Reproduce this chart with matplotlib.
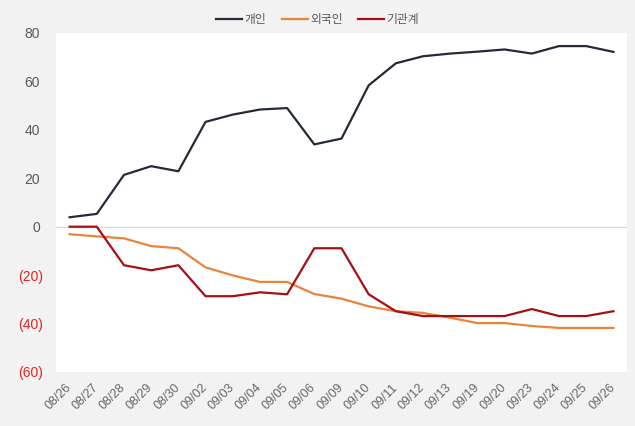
import matplotlib.pyplot as plt
import matplotlib.transforms as mtransforms
from matplotlib.ticker import FuncFormatter, FixedLocator

plt.rcParams['font.family'] = ['Noto Sans CJK KR', 'DejaVu Sans']

# --- data ---
dates = ['08/26', '08/27', '08/28', '08/29', '08/30', '09/02', '09/03', '09/04',
         '09/05', '09/06', '09/09', '09/10', '09/11', '09/12', '09/13', '09/19',
         '09/20', '09/23', '09/24', '09/25', '09/26']
individual = [3.9, 5.3, 21.4, 25.0, 22.9, 43.3, 46.3, 48.4, 49.0, 34.0, 36.4,
              58.4, 67.5, 70.4, 71.5, 72.3, 73.2, 71.5, 74.6, 74.6, 72.2]
foreign = [-3.1, -4.0, -4.8, -8.0, -8.9, -16.8, -20.1, -22.8, -22.8, -27.8, -29.7,
           -32.9, -34.9, -35.6, -37.6, -39.8, -39.8, -41.0, -41.8, -41.8, -41.8]
institution = [0.0, 0.0, -15.9, -18.0, -15.9, -28.7, -28.7, -27.1, -27.9, -8.9, -8.9,
               -27.9, -34.9, -36.9, -36.9, -36.9, -36.9, -34.0, -36.9, -36.9, -34.9]
series_names = ['개인', '외국인', '기관계']
y_ticks = [-60, -40, -20, 0, 20, 40, 60, 80]

colors = ['#232b36', '#e8843c', '#a50f15']

fig = plt.figure(figsize=(6.35, 4.26), dpi=100, facecolor='#f2f2f2')
ax = fig.add_axes([56 / 635, 54 / 426, 571 / 635, 339 / 426])
ax.set_facecolor('white')

x = list(range(len(dates)))
ax.axhline(0, color='#d9d9d9', lw=1, zorder=1)
for vals, name, c in zip([individual, foreign, institution], series_names, colors):
    ax.plot(x, vals, color=c, lw=1.6, label=name, zorder=3)

ax.set_xlim(-0.5, len(dates) - 0.5)
ax.set_ylim(-60, 80)
ax.set_xticks(x)
ax.set_xticklabels(dates, rotation=45, ha='right', fontsize=9, color='#666666',
                   family=['Liberation Sans', 'DejaVu Sans'])
ax.yaxis.set_major_locator(FixedLocator(y_ticks))
ax.yaxis.set_major_formatter(FuncFormatter(
    lambda v, p: f'({abs(v):.0f})' if v < 0 else f'{v:.0f}'))
ax.tick_params(length=0)
ax.tick_params(axis='y', pad=9.5, labelsize=10)
ax.tick_params(axis='x', pad=7)
for spine in ax.spines.values():
    spine.set_visible(False)

shift_x = mtransforms.ScaledTranslation(4 / 100, 0, fig.dpi_scale_trans)
for lbl in ax.get_xticklabels():
    lbl.set_transform(lbl.get_transform() + shift_x)

for lbl, v in zip(ax.get_yticklabels(), y_ticks):
    lbl.set_family(['Liberation Sans', 'DejaVu Sans'])
    if v < 0:
        lbl.set_color('#e02424')
    else:
        lbl.set_color('#595959')
        lbl.set_transform(lbl.get_transform() +
                          mtransforms.ScaledTranslation(-3 / 100, 0, fig.dpi_scale_trans))

fig.legend(loc='upper center', bbox_to_anchor=(0.5, 0.995), ncol=3, frameon=False,
           fontsize=8.5, handlelength=2.2, handletextpad=0.2, columnspacing=1.3,
           labelcolor='#595959')

fig.savefig('out.png', dpi=100, facecolor=fig.get_facecolor())
